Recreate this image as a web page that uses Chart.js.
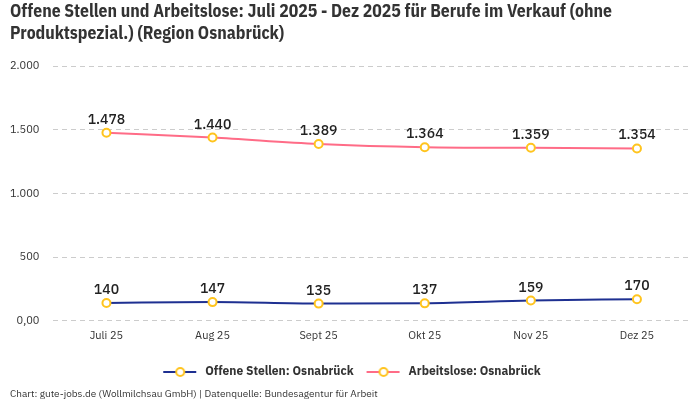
<!DOCTYPE html>
<html>
<head>
<meta charset="utf-8">
<script src="https://cdn.jsdelivr.net/npm/chart.js@4"></script>
<style>
  html, body { margin: 0; padding: 0; background: #fff; }
  #wrap { width: 700px; height: 400px; }
</style>
</head>
<body>
<div id="wrap"><canvas id="chart"></canvas></div>
<script>
const months = ["Juli 25", "Aug 25", "Sept 25", "Okt 25", "Nov 25", "Dez 25"];
const offeneStellen = [140, 147, 135, 137, 159, 170];
const arbeitslose = [1478, 1440, 1389, 1364, 1359, 1354];
const yTicks = [0, 500, 1000, 1500, 2000];

const fontName = "'IBM Plex Sans', Roboto, 'Noto Sans', sans-serif";
const titleFont = "'Liberation Sans Narrow', 'IBM Plex Sans Condensed', Roboto, sans-serif";
const pointColor = "rgb(255,196,30)";

// Legend symbol: a short line with a hollow circle in the middle,
// drawn on a slightly wider canvas so there is some room before it
function legendSymbol(color) {
  const c = document.createElement("canvas");
  c.width = 40;
  c.height = 12;
  const ctx = c.getContext("2d");
  ctx.strokeStyle = color;
  ctx.lineWidth = 2;
  ctx.beginPath();
  ctx.moveTo(4, 6);
  ctx.lineTo(37, 6);
  ctx.stroke();
  ctx.beginPath();
  ctx.arc(21, 6, 4, 0, Math.PI * 2);
  ctx.fillStyle = "#fff";
  ctx.fill();
  ctx.strokeStyle = pointColor;
  ctx.lineWidth = 2;
  ctx.stroke();
  return c;
}

// Draws the value above each point
const valueLabels = {
  id: "valueLabels",
  afterDatasetsDraw(chart) {
    const ctx = chart.ctx;
    ctx.save();
    ctx.font = "500 14px " + fontName;
    ctx.fillStyle = "#222";
    ctx.textAlign = "center";
    ctx.textBaseline = "alphabetic";
    chart.data.datasets.forEach((ds, i) => {
      chart.getDatasetMeta(i).data.forEach((pt, j) => {
        ctx.fillText(ds.data[j].toLocaleString("de-DE"), pt.x, pt.y - 9);
      });
    });
    ctx.restore();
  }
};

const blue = "rgb(30,48,145)";
const pink = "rgb(255,108,135)";

new Chart(document.getElementById("chart"), {
  type: "line",
  data: {
    labels: months,
    datasets: [{
        label: "Offene Stellen: Osnabrück",
        data: offeneStellen,
        borderColor: blue,
        backgroundColor: blue,
        borderWidth: 2,
        cubicInterpolationMode: "monotone",
        pointRadius: 4,
        pointBorderWidth: 2,
        pointBackgroundColor: "#fff",
        pointBorderColor: pointColor
      },
      {
        label: "Arbeitslose: Osnabrück",
        data: arbeitslose,
        borderColor: pink,
        backgroundColor: pink,
        borderWidth: 2,
        cubicInterpolationMode: "monotone",
        pointRadius: 4,
        pointBorderWidth: 2,
        pointBackgroundColor: "#fff",
        pointBorderColor: pointColor
      }
    ]
  },
  options: {
    responsive: true,
    maintainAspectRatio: false,
    animation: false,
    layout: {
      padding: { left: 10, right: 10, top: 0, bottom: 0 }
    },
    plugins: {
      title: {
        display: true,
        align: "start",
        text: ["Offene Stellen und Arbeitslose: Juli 2025 - Dez 2025 für Berufe im Verkauf (ohne",
          "Produktspezial.) (Region Osnabrück)"],
        color: "#333",
        font: { family: titleFont, size: 17.6, weight: "bold", lineHeight: 1.2 },
        padding: { top: 2, bottom: 22 }
      },
      subtitle: {
        display: true,
        position: "bottom",
        align: "start",
        text: "Chart: gute-jobs.de (Wollmilchsau GmbH) | Datenquelle: Bundesagentur für Arbeit",
        color: "#333",
        font: { family: fontName, size: 10 },
        padding: { top: 0, bottom: 0 }
      },
      legend: {
        position: "bottom",
        labels: {
          usePointStyle: true,
          pointStyleWidth: 40,
          generateLabels: (chart) => chart.data.datasets.map((ds, i) => ({
            text: ds.label,
            pointStyle: legendSymbol(ds.borderColor),
            fontColor: "#333",
            lineWidth: 0,
            hidden: false,
            datasetIndex: i
          })),
          color: "#333",
          font: { family: fontName, size: 12, weight: "bold" },
          padding: 9
        }
      },
      tooltip: { enabled: false }
    },
    scales: {
      x: {
        offset: true,
        grid: { display: false, drawTicks: false },
        border: { display: false },
        ticks: { color: "#333", font: { family: fontName, size: 11 }, padding: 8 },
        afterFit: (axis) => {
          axis.height += 7;
        }
      },
      y: {
        min: 0,
        max: 2000,
        afterBuildTicks: (axis) => {
          axis.ticks = yTicks.map((v) => ({ value: v }));
        },
        grid: { color: "#ccc", drawTicks: false },
        border: { display: false, dash: [5, 4] },
        ticks: {
          color: "#333",
          font: { family: fontName, size: 11 },
          padding: 14,
          callback: (v) => v === 0 ? "0,00" : v.toLocaleString("de-DE")
        },
        // padding seems to get counted twice, take the extra back
        afterFit: (axis) => {
          axis.width -= 14;
        }
      }
    }
  },
  plugins: [valueLabels]
});
</script>
</body>
</html>
